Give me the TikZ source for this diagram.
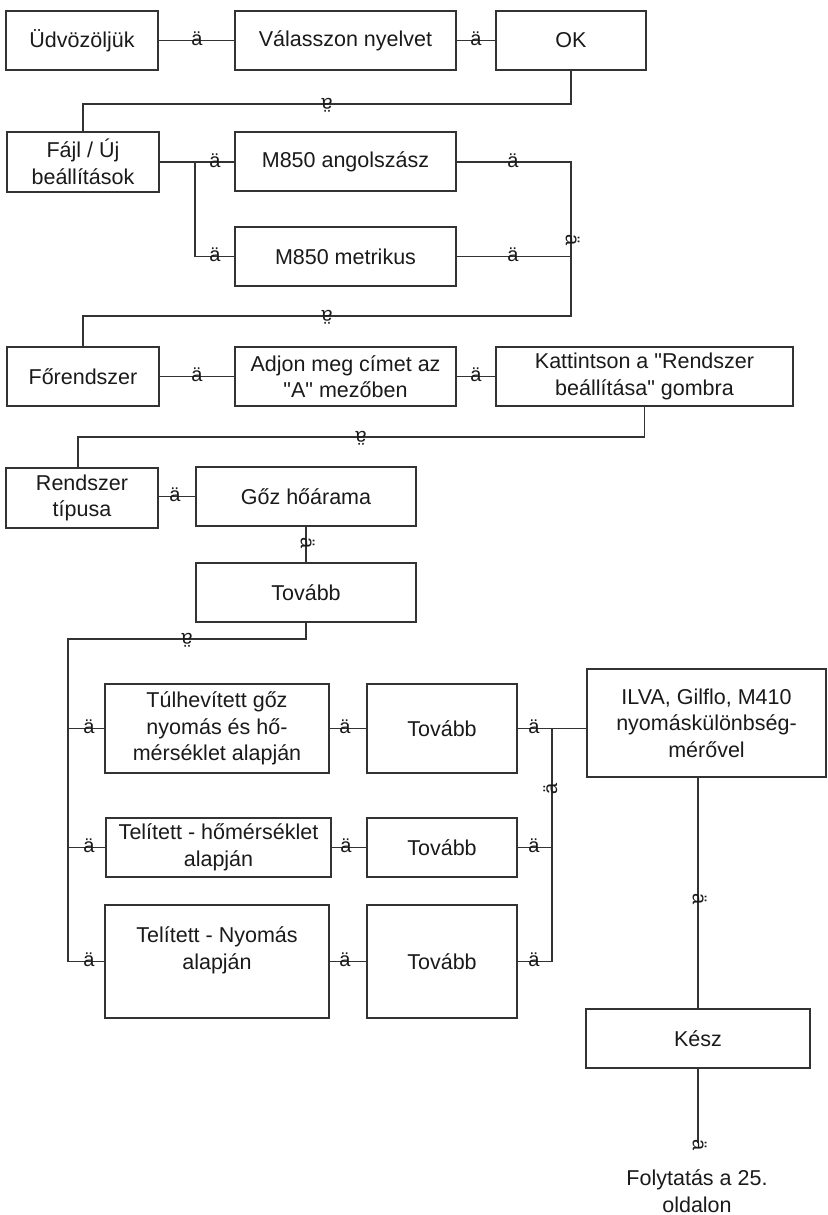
\documentclass[tikz,border=0pt]{standalone}
\usepackage{fontspec}
\setmainfont{Liberation Sans}[Ligatures=TeXOff]
\definecolor{lc}{HTML}{333333}
\definecolor{tc}{HTML}{1A1A1A}
\newcommand{\fbig}{\fontsize{21.5}{26.5}\selectfont}
\newcommand{\fglyph}{\fontsize{20}{20}\selectfont}
\tikzset{
  box/.style={draw=lc, line width=1.3pt, inner sep=0pt, align=center, font=\fbig, text=tc},
  ln/.style={draw=lc, line width=1.3pt},
  arr/.style={inner sep=0pt, font=\fglyph, text=tc, text height=10.4pt, text depth=0pt},
  lbl/.style={inner sep=0pt, align=center, font=\fbig, text=tc}
}
\begin{document}
\begin{tikzpicture}[x=1pt,y=-1pt]
\useasboundingbox (0,0) rectangle (827,1215);
% boxes
\node[box, minimum width=152pt, minimum height=59pt] (udv) at (82,40.5) {Üdvözöljük};
\node[box, minimum width=221pt, minimum height=59pt] (val) at (345.5,40.5) {Válasszon nyelvet};
\node[box, minimum width=150pt, minimum height=59pt] (ok) at (571,40.5) {OK};
\node[box, minimum width=152pt, minimum height=60pt] (fajl) at (83,162) {Fájl / Új\\beállítások};
\node[box, minimum width=221pt, minimum height=59pt] (ang) at (345.5,161.5) {M850 angolszász};
\node[box, minimum width=221pt, minimum height=59pt] (met) at (345.5,256.5) {M850 metrikus};
\node[box, minimum width=152pt, minimum height=59pt] (fore) at (83,376.5) {Főrendszer};
\node[box, minimum width=221pt, minimum height=59pt] (adjon) at (345.5,376.5) {Adjon meg címet az\\"A" mezőben};
\node[box, minimum width=297pt, minimum height=59pt] (katt) at (644.5,376.5) {Kattintson a "Rendszer\\beállítása" gombra};
\node[box, minimum width=152pt, minimum height=60pt] (rend) at (82,498) {Rendszer\\típusa};
\node[box, minimum width=220pt, minimum height=59pt] (goz) at (306,496.5) {Gőz hőárama};
\node[box, minimum width=220pt, minimum height=59pt] (tov0) at (306,592.5) {Tovább};
\node[box, minimum width=224pt, minimum height=89pt] (tul) at (217,728.5) {Túlhevített gőz\\nyomás és hő-\\mérséklet alapján};
\node[box, minimum width=225pt, minimum height=59pt] (tel1) at (218.5,847.5) {Telített - hőmérséklet\\alapján};
\node[box, minimum width=224pt, minimum height=113pt] (tel2) at (217,961.5) {Telített - Nyomás\\alapján\\\mbox{}};
\node[box, minimum width=150pt, minimum height=89pt] (t1) at (442,728.5) {Tovább};
\node[box, minimum width=150pt, minimum height=59pt] (t2) at (442,847.5) {Tovább};
\node[box, minimum width=150pt, minimum height=113pt] (t3) at (442,961.5) {Tovább};
\node[box, minimum width=239pt, minimum height=108pt] (ilva) at (706.5,723) {ILVA, Gilflo, M410\\nyomáskülönbség-\\mérővel};
\node[box, minimum width=224pt, minimum height=59pt] (kesz) at (698,1038.5) {Kész};
\node[lbl] (folyt) at (697,1191) {Folytatás a 25.\\oldalon};
% helper coordinates
\coordinate (a1) at (571,104);
\coordinate (a2) at (83,104);
\coordinate (b0) at (195,162);
\coordinate (b1) at (195,256.5);
\coordinate (b2) at (571,162);
\coordinate (b3) at (571,256.5);
\coordinate (b4) at (571,316);
\coordinate (b5) at (83,316);
\coordinate (c1) at (644.5,437);
\coordinate (c2) at (78,437);
\coordinate (c3) at (78,468);
\coordinate (d1) at (306,639);
\coordinate (d2) at (68,639);
\coordinate (d3) at (68,728.5);
\coordinate (d4) at (68,847.5);
\coordinate (d5) at (68,961.5);
\coordinate (e1) at (552,728.5);
\coordinate (e2) at (552,847.5);
\coordinate (e3) at (552,961.5);
\coordinate (f1) at (698,777);
\coordinate (f2) at (698,1143);
% connectors
\draw[ln] (udv.east) -- (val.west);
\draw[ln] (val.east) -- (ok.west);
\draw[ln] (ok.south) -- (a1) -- (a2) -- (fajl.north);
\draw[ln] (fajl.east |- b0) -- (ang.west |- b0);
\draw[ln] (b0) -- (b1) -- (met.west);
\draw[ln] (ang.east |- b2) -- (b2) -- (b4) -- (b5) -- (fore.north);
\draw[ln] (met.east) -- (b3);
\draw[ln] (fore.east) -- (adjon.west);
\draw[ln] (adjon.east) -- (katt.west);
\draw[ln] (katt.south) -- (c1) -- (c2) -- (c3);
\draw[ln] (rend.east |- goz.west) -- (goz.west);
\draw[ln] (goz.south) -- (tov0.north);
\draw[ln] (tov0.south) -- (d1) -- (d2) -- (d5);
\draw[ln] (d3) -- (tul.west);
\draw[ln] (d4) -- (tel1.west);
\draw[ln] (d5) -- (tel2.west);
\draw[ln] (tul.east) -- (t1.west);
\draw[ln] (tel1.east) -- (t2.west);
\draw[ln] (tel2.east) -- (t3.west);
\draw[ln] (t1.east) -- (ilva.west |- t1.east);
\draw[ln] (t2.east) -- (e2);
\draw[ln] (t3.east) -- (e3) -- (e1);
\draw[ln] (f1) -- (kesz.north);
\draw[ln] (kesz.south) -- (f2);
% arrow glyphs
\node[arr] (g1) at (197,40.5) {ä};
\node[arr] (g2) at (476,40.5) {ä};
\node[arr, rotate=180] (g3) at (327,104) {ä};
\node[arr] (g4) at (215,162) {ä};
\node[arr] (g5) at (215,256.5) {ä};
\node[arr] (g6) at (513,162) {ä};
\node[arr] (g7) at (513,256.5) {ä};
\node[arr, rotate=-90] (g8) at (571,240) {ä};
\node[arr, rotate=180] (g9) at (327,316) {ä};
\node[arr] (g10) at (197,376.5) {ä};
\node[arr] (g11) at (476,376.5) {ä};
\node[arr, rotate=180] (g12) at (361,437) {ä};
\node[arr] (g13) at (175,496.5) {ä};
\node[arr, rotate=-90] (g14) at (306,543) {ä};
\node[arr, rotate=180] (g15) at (187,639) {ä};
\node[arr] (g16) at (89,728.5) {ä};
\node[arr] (g17) at (89,847.5) {ä};
\node[arr] (g18) at (89,961.5) {ä};
\node[arr] (g19) at (345,728.5) {ä};
\node[arr] (g20) at (346,847.5) {ä};
\node[arr] (g21) at (345,961.5) {ä};
\node[arr] (g22) at (534,728.5) {ä};
\node[arr] (g23) at (534,847.5) {ä};
\node[arr] (g24) at (534,961.5) {ä};
\node[arr, rotate=90] (g25) at (552,789) {ä};
\node[arr, rotate=-90] (g26) at (698,899) {ä};
\node[arr, rotate=-90] (g27) at (698,1145) {ä};
\end{tikzpicture}
\end{document}
